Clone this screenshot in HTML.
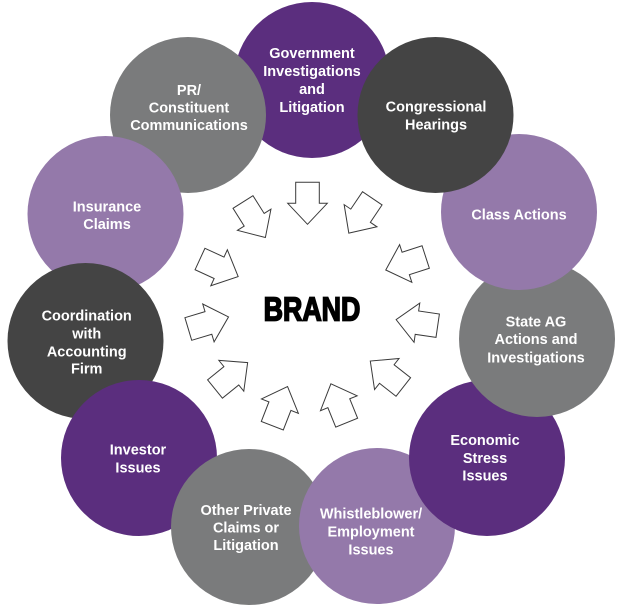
<!DOCTYPE html>
<html>
<head>
<meta charset="utf-8">
<style>
  html, body { margin: 0; padding: 0; background: #ffffff; }
  body { width: 624px; height: 608px; overflow: hidden; }
  svg { display: block; }
  .t { font-family: "Liberation Sans", sans-serif; font-weight: bold; font-size: 14.5px; fill: #ffffff; text-anchor: middle; }
  .ar { fill: #ffffff; stroke: #3a3a3a; stroke-width: 1; stroke-linejoin: miter; }
</style>
</head>
<body>
<svg width="624" height="608" viewBox="0 0 624 608" xmlns="http://www.w3.org/2000/svg">
  <!-- circles, bottom to top -->
  <circle cx="312" cy="80" r="78" fill="#5b2e7e"/>
  <circle cx="188" cy="115" r="78" fill="#7a7b7c"/>
  <circle cx="105.5" cy="214" r="78" fill="#9479aa"/>
  <circle cx="85.5" cy="341" r="78" fill="#444444"/>
  <circle cx="139" cy="458" r="78" fill="#5b2e7e"/>
  <circle cx="249" cy="527" r="78" fill="#7a7b7c"/>
  <circle cx="377" cy="526" r="78" fill="#9479aa"/>
  <circle cx="487" cy="458" r="78" fill="#5b2e7e"/>
  <circle cx="537" cy="339" r="78" fill="#7a7b7c"/>
  <circle cx="519" cy="212" r="78" fill="#9479aa"/>
  <circle cx="435.5" cy="115" r="78" fill="#444444"/>

  <!-- labels -->
  <text class="t" x="312" y="58">Government</text>
  <text class="t" x="312" y="76">Investigations</text>
  <text class="t" x="312" y="94">and</text>
  <text class="t" x="312" y="112">Litigation</text>

  <text class="t" x="189" y="95">PR/</text>
  <text class="t" x="189" y="112.5">Constituent</text>
  <text class="t" x="189" y="130">Communications</text>

  <text class="t" x="436" y="111.7">Congressional</text>
  <text class="t" x="436" y="129.3">Hearings</text>

  <text class="t" x="107" y="211.7">Insurance</text>
  <text class="t" x="107" y="229">Claims</text>

  <text class="t" x="519" y="219.3">Class Actions</text>

  <text class="t" x="536" y="326.3">State AG</text>
  <text class="t" x="536" y="344">Actions and</text>
  <text class="t" x="536" y="362.3">Investigations</text>

  <text class="t" x="86.7" y="320.7">Coordination</text>
  <text class="t" x="86.7" y="338.3">with</text>
  <text class="t" x="86.7" y="356.3">Accounting</text>
  <text class="t" x="86.7" y="373.3">Firm</text>

  <text class="t" x="138" y="454.7">Investor</text>
  <text class="t" x="138" y="472.3">Issues</text>

  <text class="t" x="246" y="515">Other Private</text>
  <text class="t" x="246" y="532.7">Claims or</text>
  <text class="t" x="246" y="550">Litigation</text>

  <text class="t" x="485" y="445">Economic</text>
  <text class="t" x="485" y="463">Stress</text>
  <text class="t" x="485" y="480.7">Issues</text>

  <text class="t" x="371" y="518.3">Whistleblower/</text>
  <text class="t" x="371" y="536.7">Employment</text>
  <text class="t" x="371" y="554.7">Issues</text>

  <!-- arrows -->
  <defs>
    <polygon id="arr" points="0,-11.8 21,-11.8 21,-19.8 42,0 21,19.8 21,11.8 0,11.8"/>
  </defs>
  <use href="#arr" class="ar" transform="translate(307.5,182.3) rotate(90)"/>
  <use href="#arr" class="ar" transform="translate(372.3,198.3) rotate(124)"/>
  <use href="#arr" class="ar" transform="translate(425.7,257) rotate(162)"/>
  <use href="#arr" class="ar" transform="translate(437.7,325.7) rotate(188.3)"/>
  <use href="#arr" class="ar" transform="translate(403.3,387) rotate(218.2)"/>
  <use href="#arr" class="ar" transform="translate(346.7,422.7) rotate(247.9)"/>
  <use href="#arr" class="ar" transform="translate(272.3,425.7) rotate(291.3)"/>
  <use href="#arr" class="ar" transform="translate(215,389) rotate(321)"/>
  <use href="#arr" class="ar" transform="translate(188.3,329) rotate(343.3)"/>
  <use href="#arr" class="ar" transform="translate(200,259) rotate(24.7)"/>
  <use href="#arr" class="ar" transform="translate(243,202) rotate(57.8)"/>

  <!-- BRAND -->
  <text x="0" y="0" transform="translate(312,320.5) scale(0.8,1)" font-family="Liberation Sans, sans-serif" font-weight="bold" font-size="33.5" fill="#000000" stroke="#000000" stroke-width="1.7" text-anchor="middle">BRAND</text>
</svg>
</body>
</html>
